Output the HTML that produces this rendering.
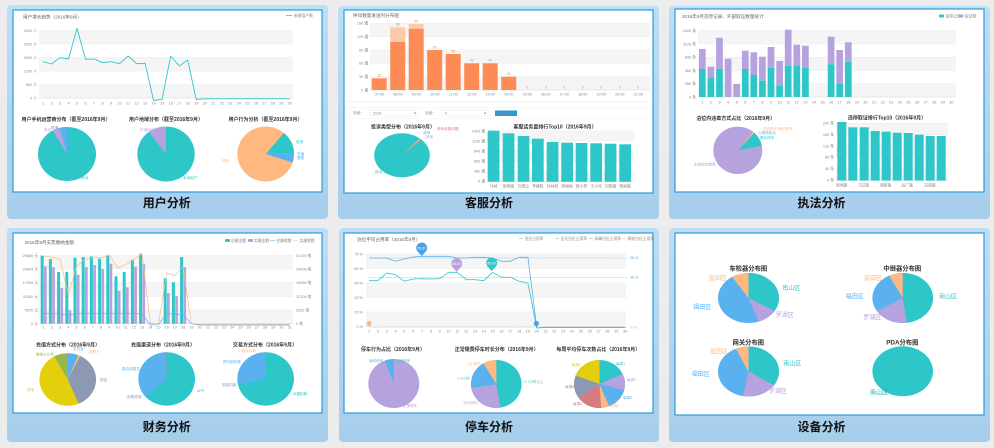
<!DOCTYPE html>
<html><head><meta charset="utf-8">
<style>
html,body{margin:0;padding:0;background:#ececec;width:994px;height:448px;overflow:hidden}
svg{display:block}
text{font-family:"Liberation Sans","Noto Sans CJK SC",sans-serif}
.ct{font-size:4.6px;fill:#666}
.ax{font-size:3.8px;fill:#888}
.pt{font-size:5px;font-weight:bold;fill:#333}
.pl{font-size:3.6px}
.big{font-size:12px;font-weight:bold;fill:#111;text-anchor:middle}
.dt{font-size:6px}
.dtt{font-size:6.3px;font-weight:bold;fill:#333;text-anchor:middle}
.e{text-anchor:end}
.m{text-anchor:middle}
</style></head><body>
<svg width="994" height="448" viewBox="0 0 994 448" xmlns="http://www.w3.org/2000/svg">
<defs>
<linearGradient id="pg" x1="0" y1="0" x2="0" y2="1">
<stop offset="0" stop-color="#bcdff6"/><stop offset="1" stop-color="#a6cdea"/>
</linearGradient>
</defs>

<!-- ============ PANEL 1 ============ -->
<rect x="7" y="5" width="321" height="214" rx="4" fill="url(#pg)"/>
<rect x="13" y="10" width="309" height="182" fill="#fff" stroke="#2e9cd8" stroke-width="1.2"/>
<text class="ct" x="23" y="18.5">用户增长趋势（2016年9月）</text>
<line x1="286" y1="15.5" x2="292" y2="15.5" stroke="#2ec7c9" stroke-width="0.8"/>
<text class="ax" x="294" y="17">新增用户数</text>
<g fill="#f5f5f5"><rect x="39" y="30.5" width="254" height="13.5"/><rect x="39" y="57.5" width="254" height="13.5"/><rect x="39" y="84.5" width="254" height="13.5"/></g>
<g stroke="#e6e6e6" stroke-width="0.4"><line x1="39" y1="30.5" x2="293" y2="30.5"/><line x1="39" y1="44" x2="293" y2="44"/><line x1="39" y1="57.5" x2="293" y2="57.5"/><line x1="39" y1="71" x2="293" y2="71"/><line x1="39" y1="84.5" x2="293" y2="84.5"/><line x1="39" y1="98" x2="293" y2="98" stroke="#ccc"/></g>
<g class="ax e"><text x="37" y="32">2400 人</text><text x="37" y="45.5">2000 人</text><text x="37" y="59">1600 人</text><text x="37" y="72.5">1200 人</text><text x="37" y="86">800 人</text><text x="37" y="99.5">0 人</text></g>
<text class="ax m" y="104.5"><tspan x="43">1</tspan><tspan x="51.5">2</tspan><tspan x="60">3</tspan><tspan x="68.5">4</tspan><tspan x="77">5</tspan><tspan x="85.6">6</tspan><tspan x="94.1">7</tspan><tspan x="102.6">8</tspan><tspan x="111.1">9</tspan><tspan x="119.6">10</tspan><tspan x="128.1">11</tspan><tspan x="136.6">12</tspan><tspan x="145.1">13</tspan><tspan x="153.6">14</tspan><tspan x="162.1">15</tspan><tspan x="170.7">16</tspan><tspan x="179.2">17</tspan><tspan x="187.7">18</tspan><tspan x="196.2">19</tspan><tspan x="204.7">20</tspan><tspan x="213.2">21</tspan><tspan x="221.7">22</tspan><tspan x="230.2">23</tspan><tspan x="238.7">24</tspan><tspan x="247.2">25</tspan><tspan x="255.8">26</tspan><tspan x="264.3">27</tspan><tspan x="272.8">28</tspan><tspan x="281.3">29</tspan><tspan x="289.8">30</tspan></text>
<polyline fill="none" stroke="#2ec7c9" stroke-width="0.9" stroke-linejoin="round" points="43,61.7 51.5,64 60,57.7 68.5,59 77,28.3 85.6,59.3 94.1,59 102.6,62.7 111.1,61.7 119.6,63.7 128.1,56 136.6,63.7 145.1,63.3 153.6,100.5 162.1,99.3 170.7,56 179.2,66 187.7,60 196.2,99.5 204.7,98.8 289.8,98.8"/>
<g class="pt m"><text x="66" y="121">用户手机运营商分布（截至2016年9月）</text><text x="166" y="121">用户地域分布（截至2016年9月）</text><text x="265.5" y="121">用户行为分析（截至2016年9月）</text></g>
<g transform="translate(67,154) scale(2.9,2.7)"><circle r="10" fill="#2ec7c9"/><circle r="5" fill="none" stroke="#b6a2de" stroke-width="10" stroke-dasharray="1.309 40" stroke-dashoffset="-28.80" transform="rotate(-90)"/><circle r="5" fill="none" stroke="#5ab1ef" stroke-width="10" stroke-dasharray="1.309 40" stroke-dashoffset="-30.11" transform="rotate(-90)"/></g>
<g transform="translate(166,154) scale(2.87,2.75)"><circle r="10" fill="#2ec7c9"/><circle r="5" fill="none" stroke="#b6a2de" stroke-width="10" stroke-dasharray="3.229 40" stroke-dashoffset="-28.19" transform="rotate(-90)"/></g>
<g transform="translate(265.7,154) scale(2.83,2.75)"><circle r="10" fill="#ffb980"/><circle r="5" fill="none" stroke="#2ec7c9" stroke-width="10" stroke-dasharray="4.189 40" stroke-dashoffset="-3.491" transform="rotate(-90)"/><circle r="5" fill="none" stroke="#5ab1ef" stroke-width="10" stroke-dasharray="1.745 40" stroke-dashoffset="-7.680" transform="rotate(-90)"/></g>
<g class="pl"><text x="44" y="131" fill="#b6a2de">电信</text><text x="51" y="129" fill="#5ab1ef">联通</text><text x="81" y="179" fill="#2ec7c9">移动</text><text x="140" y="131" fill="#b6a2de">外地用户</text><text x="183" y="179" fill="#2ec7c9">本地用户</text><text x="296" y="143" fill="#2ec7c9">查询</text><text x="297" y="155" fill="#5ab1ef">充值</text><text x="297" y="159" fill="#5ab1ef">缴费</text><text x="222" y="162" fill="#ffb980">停车</text></g>
<text class="big" x="166.7" y="207">用户分析</text>

<!-- ============ PANEL 2 ============ -->
<rect x="338" y="6" width="321" height="213" rx="4" fill="url(#pg)"/>
<rect x="344" y="10" width="309" height="183" fill="#fff" stroke="#2e9cd8" stroke-width="1.2"/>
<text class="ct" x="353" y="17">呼叫数量发送时分布图</text>
<g fill="#f5f5f5"><rect x="370" y="23.3" width="280" height="13.4"/><rect x="370" y="50" width="280" height="13.3"/><rect x="370" y="76.7" width="280" height="13.3"/></g>
<g stroke="#e6e6e6" stroke-width="0.4"><line x1="370" y1="23.3" x2="650" y2="23.3"/><line x1="370" y1="36.7" x2="650" y2="36.7"/><line x1="370" y1="50" x2="650" y2="50"/><line x1="370" y1="63.3" x2="650" y2="63.3"/><line x1="370" y1="76.7" x2="650" y2="76.7"/><line x1="370" y1="90" x2="650" y2="90" stroke="#ccc"/></g>
<g class="ax e"><text x="368" y="24.6">150 通</text><text x="368" y="38">120 通</text><text x="368" y="51.3">90 通</text><text x="368" y="64.6">60 通</text><text x="368" y="78">30 通</text><text x="368" y="91.3">0 通</text></g>
<g fill="#fc8b55"><rect x="371.7" y="78.3" width="15" height="11.7"/><rect x="390.2" y="41.7" width="15" height="48.3"/><rect x="408.7" y="28.7" width="15" height="61.3"/><rect x="427.2" y="50" width="15" height="40"/><rect x="445.7" y="54" width="15" height="36"/><rect x="464.2" y="63.3" width="15" height="26.7"/><rect x="482.7" y="63.3" width="15" height="26.7"/><rect x="501.2" y="76.7" width="15" height="13.3"/></g>
<g fill="#fcc9aa"><rect x="390.2" y="27.3" width="15" height="14.4"/><rect x="408.7" y="24" width="15" height="4.7"/></g>
<g class="pl m" fill="#fc8b55"><text x="379.2" y="76.5">18</text><text x="397.7" y="25.5">85</text><text x="416.2" y="22.3">99</text><text x="434.7" y="48.3">62</text><text x="453.2" y="52.3">56</text><text x="471.7" y="61.6">42</text><text x="490.2" y="61.6">42</text><text x="508.7" y="75">20</text><text x="527.2" y="88.5">0</text><text x="545.7" y="88.5">0</text><text x="564.2" y="88.5">0</text><text x="582.7" y="88.5">0</text><text x="601.2" y="88.5">0</text><text x="619.7" y="88.5">0</text><text x="638.2" y="88.5">0</text></g>
<text class="ax m" y="95.5"><tspan x="379.2">07:00</tspan><tspan x="397.7">08:00</tspan><tspan x="416.2">09:00</tspan><tspan x="434.7">10:00</tspan><tspan x="453.2">11:00</tspan><tspan x="471.7">12:00</tspan><tspan x="490.2">13:00</tspan><tspan x="508.7">14:00</tspan><tspan x="527.2">15:00</tspan><tspan x="545.7">16:00</tspan><tspan x="564.2">17:00</tspan><tspan x="582.7">18:00</tspan><tspan x="601.2">19:00</tspan><tspan x="619.7">20:00</tspan><tspan x="638.2">21:00</tspan></text>
<line x1="344" y1="101.7" x2="653" y2="101.7" stroke="#e8e8e8" stroke-width="0.5"/>
<rect x="346" y="107.3" width="305" height="11" fill="none" stroke="#eee" stroke-width="0.5"/>
<text class="ax" x="353" y="114.3" fill="#555">年份：</text>
<rect x="370" y="110" width="48" height="6" fill="#fff" stroke="#e3e3e3" stroke-width="0.4"/>
<text class="ax" x="373" y="114.3" fill="#555">2016</text><text class="ax" x="414" y="114.3" fill="#555">▾</text>
<text class="ax" x="425" y="114.3" fill="#555">月份：</text>
<rect x="442" y="110" width="46" height="6" fill="#fff" stroke="#e3e3e3" stroke-width="0.4"/>
<text class="ax" x="445" y="114.3" fill="#555">9</text><text class="ax" x="484" y="114.3" fill="#555">▾</text>
<rect x="495" y="110.5" width="22" height="5.5" fill="#2d9ad6"/>
<text class="ax m" x="506" y="114.6" fill="#fff">查 询</text>
<g class="pt m"><text x="403" y="128.5">投诉类型分布（2016年9月）</text><text x="555" y="128.5">客服话务量排行Top10（2016年9月）</text></g>
<g transform="translate(402,155.3) scale(2.78,2.2)"><circle r="10" fill="#2ec7c9"/><circle r="5" fill="none" stroke="#ffb980" stroke-width="10" stroke-dasharray="0.262 40" stroke-dashoffset="-3.491" transform="rotate(-90)"/><circle r="5" fill="none" stroke="#d87a80" stroke-width="10" stroke-dasharray="0.175 40" stroke-dashoffset="-3.753" transform="rotate(-90)"/></g>
<g class="pl"><text x="437" y="130" fill="#d87a80">停车收费问题</text><text x="423" y="134" fill="#5ab1ef">咨询</text><text x="426" y="138" fill="#b6a2de">其他</text><text x="375" y="173" fill="#2ec7c9">投诉</text></g>
<g fill="#f5f5f5"><rect x="487" y="131" width="147" height="10"/><rect x="487" y="151" width="147" height="10"/><rect x="487" y="171" width="147" height="10"/></g>
<g stroke="#e6e6e6" stroke-width="0.4"><line x1="487" y1="131" x2="634" y2="131"/><line x1="487" y1="141" x2="634" y2="141"/><line x1="487" y1="151" x2="634" y2="151"/><line x1="487" y1="161" x2="634" y2="161"/><line x1="487" y1="171" x2="634" y2="171"/><line x1="487" y1="181.7" x2="634" y2="181.7" stroke="#ccc"/></g>
<g class="ax e"><text x="485" y="132.3">1400 通</text><text x="485" y="142.3">1120 通</text><text x="485" y="152.3">840 通</text><text x="485" y="162.3">560 通</text><text x="485" y="172.3">280 通</text><text x="485" y="182.5">0 通</text></g>
<g fill="#2ec7c9"><rect x="487.7" y="130.7" width="11.7" height="51"/><rect x="502.7" y="133.3" width="11.7" height="48.4"/><rect x="517.7" y="136" width="11.7" height="45.7"/><rect x="532" y="138.7" width="11.7" height="43"/><rect x="546.7" y="142" width="11.7" height="39.7"/><rect x="561.3" y="142.7" width="11.7" height="39"/><rect x="575.7" y="143" width="11.7" height="38.7"/><rect x="590.3" y="143.3" width="11.7" height="38.4"/><rect x="604.7" y="143.7" width="11.7" height="38"/><rect x="619.3" y="144.3" width="11.7" height="37.4"/></g>
<text class="ax m" y="187.3"><tspan x="493.5">马林</tspan><tspan x="508.5">张晓梅</tspan><tspan x="523.5">刘翠云</tspan><tspan x="537.8">李建辉</tspan><tspan x="552.5">孙林双</tspan><tspan x="567.1">周丽梅</tspan><tspan x="581.5">郭小翠</tspan><tspan x="596.1">王小丹</tspan><tspan x="610.5">刘晓娟</tspan><tspan x="625.1">杨丽娟</tspan></text>
<text class="big" x="489" y="207">客服分析</text>

<!-- ============ PANEL 3 ============ -->
<rect x="669" y="6" width="321" height="213" rx="4" fill="url(#pg)"/>
<rect x="675" y="9" width="309" height="183" fill="#fff" stroke="#2e9cd8" stroke-width="1.2"/>
<text class="ct" x="682" y="18">2016年9月违停记录、外部取证数量统计</text>
<rect x="939" y="14.5" width="5" height="3" rx="0.8" fill="#2ec7c9"/><text class="ax" x="945.5" y="17.4">违停记录</text>
<rect x="958.5" y="14.5" width="5" height="3" rx="0.8" fill="#b6a2de"/><text class="ax" x="965" y="17.4">取证数</text>
<g fill="#f5f5f5"><rect x="698" y="30.7" width="258" height="13.3"/><rect x="698" y="57.3" width="258" height="13.2"/><rect x="698" y="83.8" width="258" height="13.2"/></g>
<g stroke="#e6e6e6" stroke-width="0.4"><line x1="698" y1="30.7" x2="956" y2="30.7"/><line x1="698" y1="44" x2="956" y2="44"/><line x1="698" y1="57.3" x2="956" y2="57.3"/><line x1="698" y1="70.5" x2="956" y2="70.5"/><line x1="698" y1="83.8" x2="956" y2="83.8"/><line x1="698" y1="97" x2="956" y2="97" stroke="#ccc"/></g>
<g class="ax e"><text x="696" y="32">1400 条</text><text x="696" y="45.3">1120 条</text><text x="696" y="58.6">840 条</text><text x="696" y="71.8">560 条</text><text x="696" y="85.1">280 条</text><text x="696" y="98.3">0 条</text></g>
<g fill="#b6a2de"><rect x="698.95" y="49" width="6.7" height="20"/><rect x="707.55" y="66.7" width="6.7" height="11.3"/><rect x="716.15" y="37.7" width="6.7" height="31.3"/><rect x="724.75" y="58.7" width="6.7" height="38.3"/><rect x="733.35" y="84" width="6.7" height="13"/><rect x="741.95" y="50.7" width="6.7" height="18.3"/><rect x="750.45" y="52.3" width="6.7" height="22.7"/><rect x="759.05" y="56.7" width="6.7" height="24"/><rect x="767.65" y="47" width="6.7" height="20.7"/><rect x="776.25" y="61" width="6.7" height="25"/><rect x="784.85" y="29.7" width="6.7" height="36"/><rect x="793.45" y="44.7" width="6.7" height="21.3"/><rect x="802.05" y="45.7" width="6.7" height="22"/><rect x="827.75" y="36.7" width="6.7" height="27.6"/><rect x="836.35" y="50" width="6.7" height="33.3"/><rect x="844.95" y="42.3" width="6.7" height="19.4"/></g>
<g fill="#2ec7c9"><rect x="698.95" y="69" width="6.7" height="28"/><rect x="707.55" y="78" width="6.7" height="19"/><rect x="716.15" y="69" width="6.7" height="28"/><rect x="741.95" y="69" width="6.7" height="28"/><rect x="750.45" y="75" width="6.7" height="22"/><rect x="759.05" y="80.7" width="6.7" height="16.3"/><rect x="767.65" y="67.7" width="6.7" height="29.3"/><rect x="776.25" y="86" width="6.7" height="11"/><rect x="784.85" y="65.7" width="6.7" height="31.3"/><rect x="793.45" y="66" width="6.7" height="31"/><rect x="802.05" y="67.7" width="6.7" height="29.3"/><rect x="827.75" y="64.3" width="6.7" height="32.7"/><rect x="836.35" y="83.3" width="6.7" height="13.7"/><rect x="844.95" y="61.7" width="6.7" height="35.3"/></g>
<text class="ax m" y="103.5"><tspan x="702.3">1</tspan><tspan x="710.9">2</tspan><tspan x="719.5">3</tspan><tspan x="728.1">4</tspan><tspan x="736.7">5</tspan><tspan x="745.3">6</tspan><tspan x="753.8">7</tspan><tspan x="762.4">8</tspan><tspan x="771">9</tspan><tspan x="779.6">10</tspan><tspan x="788.2">11</tspan><tspan x="796.8">12</tspan><tspan x="805.4">13</tspan><tspan x="814">14</tspan><tspan x="822.5">15</tspan><tspan x="831.1">16</tspan><tspan x="839.7">17</tspan><tspan x="848.3">18</tspan><tspan x="857">19</tspan><tspan x="865.5">20</tspan><tspan x="874.1">21</tspan><tspan x="882.7">22</tspan><tspan x="891.3">23</tspan><tspan x="899.9">24</tspan><tspan x="908.5">25</tspan><tspan x="917.1">26</tspan><tspan x="925.7">27</tspan><tspan x="934.2">28</tspan><tspan x="942.8">29</tspan><tspan x="951.4">30</tspan></text>
<g class="pt m"><text x="735.7" y="120">泊位内违章方式占比（2016年9月）</text><text x="887" y="119.5">违停取证排行Top10（2016年9月）</text></g>
<g transform="translate(737.8,150.3) scale(2.45,2.37)"><circle r="10" fill="#b6a2de"/><circle r="5" fill="none" stroke="#2ec7c9" stroke-width="10" stroke-dasharray="3.142 40" stroke-dashoffset="-3.665" transform="rotate(-90)"/><circle r="5" fill="none" stroke="#ffb980" stroke-width="10" stroke-dasharray="0.262 40" stroke-dashoffset="-3.403" transform="rotate(-90)"/></g>
<g class="pl"><text x="763" y="130" fill="#ffb980">逆向停车/跨位停车</text><text x="758" y="134" fill="#5ab1ef">占用残疾位</text><text x="760" y="139" fill="#2ec7c9">跨位停车</text><text x="694" y="165.5" fill="#b6a2de">未按规定缴费</text></g>
<g fill="#f5f5f5"><rect x="836" y="123.3" width="112" height="11.4"/><rect x="836" y="146" width="112" height="11.3"/><rect x="836" y="168.7" width="112" height="11.3"/></g>
<g stroke="#e6e6e6" stroke-width="0.4"><line x1="836" y1="123.3" x2="948" y2="123.3"/><line x1="836" y1="134.7" x2="948" y2="134.7"/><line x1="836" y1="146" x2="948" y2="146"/><line x1="836" y1="157.3" x2="948" y2="157.3"/><line x1="836" y1="168.7" x2="948" y2="168.7"/><line x1="836" y1="180.5" x2="948" y2="180.5" stroke="#ccc"/></g>
<g class="ax e"><text x="834" y="124.6">200 条</text><text x="834" y="136">160 条</text><text x="834" y="147.3">120 条</text><text x="834" y="158.6">80 条</text><text x="834" y="170">40 条</text><text x="834" y="181.5">0 条</text></g>
<g fill="#2ec7c9"><rect x="837.3" y="122" width="9" height="58.5"/><rect x="848.3" y="127.3" width="9" height="53.2"/><rect x="859.7" y="127.3" width="9" height="53.2"/><rect x="870.7" y="131" width="9" height="49.5"/><rect x="881.7" y="131.7" width="9" height="48.8"/><rect x="892.7" y="132.7" width="9" height="47.8"/><rect x="903.7" y="133" width="9" height="47.5"/><rect x="914.7" y="134.7" width="9" height="45.8"/><rect x="925.7" y="136" width="9" height="44.5"/><rect x="936.7" y="136" width="9" height="44.5"/></g>
<text class="ax m" y="186.5"><tspan x="841.8">新闻路</tspan><tspan x="863.8">万达街</tspan><tspan x="885.7">南新路</tspan><tspan x="907.3">后广路</tspan><tspan x="930">深南路</tspan></text>
<text class="big" x="821.5" y="207">执法分析</text>

<!-- ============ PANEL 4 ============ -->
<rect x="7" y="228" width="321" height="214" rx="4" fill="url(#pg)"/>
<rect x="13" y="233" width="309" height="180" fill="#fff" stroke="#2e9cd8" stroke-width="1.2"/>
<text class="ct" x="24.5" y="244">2016年9月支票缴纳金额</text>
<rect x="225" y="239" width="5" height="3" rx="0.8" fill="#2ec7c9"/><text class="ax" x="231" y="241.8">应缴金额</text>
<rect x="248" y="239" width="5" height="3" rx="0.8" fill="#b6a2de"/><text class="ax" x="254" y="241.8">实缴金额</text>
<line x1="270" y1="240.5" x2="275" y2="240.5" stroke="#5ab1ef" stroke-width="0.6"/><text class="ax" x="276.5" y="241.8">应缴笔数</text>
<line x1="293" y1="240.5" x2="298" y2="240.5" stroke="#ffb980" stroke-width="0.6"/><text class="ax" x="299.5" y="241.8">实缴笔数</text>
<g fill="#f5f5f5"><rect x="40" y="255.5" width="253" height="13.5"/><rect x="40" y="282.5" width="253" height="14"/><rect x="40" y="310" width="253" height="13.7"/></g>
<g stroke="#e6e6e6" stroke-width="0.4"><line x1="40" y1="255.5" x2="293" y2="255.5"/><line x1="40" y1="269" x2="293" y2="269"/><line x1="40" y1="282.5" x2="293" y2="282.5"/><line x1="40" y1="296.5" x2="293" y2="296.5"/><line x1="40" y1="310" x2="293" y2="310"/><line x1="40" y1="323.7" x2="293" y2="323.7" stroke="#ccc"/></g>
<g class="ax e"><text x="38" y="256.8">29880 元</text><text x="38" y="270.3">23904 元</text><text x="38" y="283.8">17928 元</text><text x="38" y="297.8">11952 元</text><text x="38" y="311.3">5976 元</text><text x="38" y="325">0 元</text></g>
<g class="ax"><text x="296" y="256.8">31760 笔</text><text x="296" y="270.3">25408 笔</text><text x="296" y="283.8">19056 笔</text><text x="296" y="297.8">12704 笔</text><text x="296" y="311.3">6352 笔</text><text x="296" y="325">0 笔</text></g>
<g fill="#2ec7c9"><rect x="40.7" y="255.7" width="3" height="68"/><rect x="48.9" y="259" width="3" height="64.7"/><rect x="57.1" y="272" width="3" height="51.7"/><rect x="65.3" y="272" width="3" height="51.7"/><rect x="73.5" y="257.7" width="3" height="66"/><rect x="81.7" y="257" width="3" height="66.7"/><rect x="89.9" y="256.3" width="3" height="67.4"/><rect x="98.1" y="258.7" width="3" height="65"/><rect x="106.3" y="255.7" width="3" height="68"/><rect x="114.5" y="276.3" width="3" height="47.4"/><rect x="122.7" y="272" width="3" height="51.7"/><rect x="130.9" y="259.7" width="3" height="64"/><rect x="139.1" y="253.7" width="3" height="70"/><rect x="163.7" y="278.3" width="3" height="45.4"/><rect x="171.9" y="282.3" width="3" height="41.4"/><rect x="180.1" y="257" width="3" height="66.7"/></g>
<g fill="#b6a2de"><rect x="44" y="266.3" width="2.7" height="57.4"/><rect x="52.2" y="267.3" width="2.7" height="56.4"/><rect x="60.4" y="288" width="2.7" height="35.7"/><rect x="68.6" y="310.3" width="2.7" height="13.4"/><rect x="76.8" y="274.7" width="2.7" height="49"/><rect x="85" y="267" width="2.7" height="56.7"/><rect x="93.2" y="265" width="2.7" height="58.7"/><rect x="101.4" y="269" width="2.7" height="54.7"/><rect x="109.6" y="263.7" width="2.7" height="60"/><rect x="117.8" y="290.7" width="2.7" height="33"/><rect x="126" y="287.3" width="2.7" height="36.4"/><rect x="134.2" y="266.7" width="2.7" height="57"/><rect x="142.4" y="263.7" width="2.7" height="60"/><rect x="167" y="293" width="2.7" height="30.7"/><rect x="175.2" y="296.3" width="2.7" height="27.4"/><rect x="183.4" y="267.3" width="2.7" height="56.4"/></g>
<polyline fill="none" stroke="#ffb980" stroke-width="0.7" stroke-linejoin="round" points="43.7,256.3 51.9,257 60.1,259.7 68.3,294.7 76.5,266.3 84.7,259.7 92.9,257 101.1,258 109.3,254.7 117.5,268 125.7,264.7 133.9,259.7 142.1,253.7 150.3,323 158.5,323.7 166.7,273 174.9,275.7 183.1,266.3 191.3,323.7 199.5,324.3 289.7,324.3"/>
<polyline fill="none" stroke="#5ab1ef" stroke-width="0.7" stroke-linejoin="round" points="43.7,313 51.9,313.7 60.1,314 68.3,314.7 76.5,313.7 142.1,313.7 150.3,325 158.5,324.7 166.7,313.7 174.9,314 183.1,314.7 191.3,323.7 199.5,325 289.7,325"/>
<text class="ax m" y="328.3"><tspan x="43.7">1</tspan><tspan x="51.9">2</tspan><tspan x="60.1">3</tspan><tspan x="68.3">4</tspan><tspan x="76.5">5</tspan><tspan x="84.7">6</tspan><tspan x="92.9">7</tspan><tspan x="101.1">8</tspan><tspan x="109.3">9</tspan><tspan x="117.5">10</tspan><tspan x="125.7">11</tspan><tspan x="133.9">12</tspan><tspan x="142.1">13</tspan><tspan x="150.3">14</tspan><tspan x="158.5">15</tspan><tspan x="166.7">16</tspan><tspan x="174.9">17</tspan><tspan x="183.1">18</tspan><tspan x="191.3">19</tspan><tspan x="199.5">20</tspan><tspan x="207.7">21</tspan><tspan x="215.9">22</tspan><tspan x="224.1">23</tspan><tspan x="232.3">24</tspan><tspan x="240.5">25</tspan><tspan x="248.7">26</tspan><tspan x="256.9">27</tspan><tspan x="265.1">28</tspan><tspan x="273.3">29</tspan><tspan x="281.5">30</tspan><tspan x="289.7">31</tspan></text>
<g class="pt m"><text x="68" y="346.5">充值方式分布（2016年9月）</text><text x="163" y="346.5">充值渠道分布（2016年9月）</text><text x="265" y="346.5">交易方式分布（2016年9月）</text></g>
<g transform="translate(67.7,379.5) scale(2.83,2.62)"><circle r="10" fill="#e5cf0d"/><circle r="5" fill="none" stroke="#5ab1ef" stroke-width="10" stroke-dasharray="1.920 40" stroke-dashoffset="0" transform="rotate(-90)"/><circle r="5" fill="none" stroke="#ffb980" stroke-width="10" stroke-dasharray="0.349 40" stroke-dashoffset="-1.920" transform="rotate(-90)"/><circle r="5" fill="none" stroke="#8d98b3" stroke-width="10" stroke-dasharray="11.432 40" stroke-dashoffset="-2.269" transform="rotate(-90)"/><circle r="5" fill="none" stroke="#97b552" stroke-width="10" stroke-dasharray="2.531 40" stroke-dashoffset="-28.886" transform="rotate(-90)"/></g>
<g transform="translate(166.7,379) scale(2.83,2.67)"><circle r="10" fill="#2ec7c9"/><circle r="5" fill="none" stroke="#5ab1ef" stroke-width="10" stroke-dasharray="11.258 40" stroke-dashoffset="-19.898" transform="rotate(-90)"/><circle r="5" fill="none" stroke="#8d98b3" stroke-width="10" stroke-dasharray="0.262 40" stroke-dashoffset="-31.155" transform="rotate(-90)"/></g>
<g transform="translate(265.7,379) scale(2.83,2.67)"><circle r="10" fill="#2ec7c9"/><circle r="5" fill="none" stroke="#5ab1ef" stroke-width="10" stroke-dasharray="8.727 40" stroke-dashoffset="-22.516" transform="rotate(-90)"/><circle r="5" fill="none" stroke="#8d98b3" stroke-width="10" stroke-dasharray="0.175 40" stroke-dashoffset="-31.243" transform="rotate(-90)"/></g>
<g class="pl"><text x="36" y="355.5" fill="#97b552">微信公众号</text><text x="73" y="350" fill="#5ab1ef">支付宝</text><text x="89" y="353" fill="#ffb980">银联卡</text><text x="100" y="381" fill="#8d98b3">现金</text><text x="27" y="391" fill="#e5cf0d">其他</text><text x="122" y="370" fill="#5ab1ef">路边收费员</text><text x="127" y="398" fill="#8d98b3">自助终端</text><text x="197" y="392" fill="#2ec7c9">APP</text><text x="238" y="352" fill="#ffb980">小程序扣款</text><text x="223" y="363" fill="#5ab1ef">预付款扣款</text><text x="222" y="386" fill="#8d98b3">现金扣款</text><text x="293" y="395" fill="#2ec7c9">余额扣款</text></g>
<text class="big" x="166.7" y="431">财务分析</text>

<!-- ============ PANEL 5 ============ -->
<rect x="339" y="228" width="320" height="214" rx="4" fill="url(#pg)"/>
<rect x="344" y="233" width="309" height="180" fill="#fff" stroke="#2e9cd8" stroke-width="1.2"/>
<text class="ct" x="357" y="241">泊位平均占用率（2016年9月）</text>
<g class="ax"><line x1="519" y1="238.5" x2="523" y2="238.5" stroke="#2ec7c9" stroke-width="0.5"/><text x="524.5" y="240">泊位占用率</text><line x1="555" y1="238.5" x2="559" y2="238.5" stroke="#5ab1ef" stroke-width="0.5"/><text x="560.5" y="240">全天泊位占用率</text><line x1="589" y1="238.5" x2="593" y2="238.5" stroke="#5ab1ef" stroke-width="0.5"/><text x="594.5" y="240">高峰泊位占用率</text><line x1="622" y1="238.5" x2="626" y2="238.5" stroke="#ffb980" stroke-width="0.5"/><text x="627.5" y="240">周转泊位占用率</text></g>
<g fill="#f5f5f5"><rect x="366" y="254" width="260" height="14.5"/><rect x="366" y="283" width="260" height="14.5"/><rect x="366" y="312" width="260" height="14.5"/></g>
<g stroke="#e6e6e6" stroke-width="0.4"><line x1="366" y1="254" x2="626" y2="254"/><line x1="366" y1="268.5" x2="626" y2="268.5"/><line x1="366" y1="283" x2="626" y2="283"/><line x1="366" y1="297.5" x2="626" y2="297.5"/><line x1="366" y1="312" x2="626" y2="312"/><line x1="366" y1="326.5" x2="626" y2="326.5" stroke="#ccc"/></g>
<g class="ax e"><text x="363" y="255.3">75 %</text><text x="363" y="269.8">60 %</text><text x="363" y="284.3">45 %</text><text x="363" y="298.8">30 %</text><text x="363" y="313.3">15 %</text><text x="363" y="327.8">0 %</text></g>
<g stroke="#5ab1ef" stroke-width="0.5" stroke-dasharray="1.5 1.2"><line x1="369" y1="258" x2="628" y2="258"/><line x1="369" y1="277.3" x2="628" y2="277.3"/></g>
<line x1="369" y1="327.3" x2="628" y2="327.3" stroke="#ffb980" stroke-width="0.5" stroke-dasharray="1.5 1.2"/>
<g class="pl"><text x="630" y="259.2" fill="#5ab1ef">68.11</text><text x="630" y="278.5" fill="#5ab1ef">46.11</text><text x="630" y="328.5" fill="#ffb980">0.00</text></g>
<polyline fill="none" stroke="#5ab1ef" stroke-width="0.8" stroke-linejoin="round" points="369,258 377.8,258 386.7,258 395.5,261.3 404.3,259 413.2,257 422,256.3 430.8,256.3 439.6,256.3 448.5,256.3 457.3,258 466.1,258 475,257.3 483.8,257.3 492.6,258 501.5,261.3 510.3,261.3 519.1,257.3 527.9,257.3 536.8,328 545.6,327.3 625.1,327.3"/>
<polyline fill="none" stroke="#2ec7c9" stroke-width="0.8" stroke-linejoin="round" points="369,280.7 377.8,280.7 386.7,273 395.5,274.7 404.3,281.3 413.2,279 422,278.7 430.8,279 439.6,278.7 448.5,272.3 457.3,272.3 466.1,279.7 475,279.7 483.8,280.7 492.6,272.3 501.5,277.3 510.3,277.3 519.1,281.3 527.9,283 536.8,328 545.6,327.5 625.1,327.5"/>
<path d="M417.1,251 A5.5,5.5 0 1 1 426.3,251 L421.7,256 Z" fill="#4aa3e8"/>
<path d="M452.1,266.7 A5.5,5.5 0 1 1 461.3,266.7 L456.7,271.7 Z" fill="#b6a2de"/>
<path d="M487.1,266 A5.5,5.5 0 1 1 496.3,266 L491.7,271 Z" fill="#2ec7c9"/>
<g class="pl m" fill="#fff"><text x="421.7" y="249.3">76.67</text><text x="456.7" y="265">54.67</text><text x="491.7" y="264.3">55.67</text></g>
<circle cx="369" cy="323.5" r="2.6" fill="#ffb980"/>
<circle cx="536.3" cy="323.5" r="2.6" fill="#4aa3e8"/>
<text class="ax m" y="332.5"><tspan x="369">1</tspan><tspan x="377.8">2</tspan><tspan x="386.7">3</tspan><tspan x="395.5">4</tspan><tspan x="404.3">5</tspan><tspan x="413.2">6</tspan><tspan x="422">7</tspan><tspan x="430.8">8</tspan><tspan x="439.6">9</tspan><tspan x="448.5">10</tspan><tspan x="457.3">11</tspan><tspan x="466.1">12</tspan><tspan x="475">13</tspan><tspan x="483.8">14</tspan><tspan x="492.6">15</tspan><tspan x="501.5">16</tspan><tspan x="510.3">17</tspan><tspan x="519.1">18</tspan><tspan x="527.9">19</tspan><tspan x="536.8">20</tspan><tspan x="545.6">21</tspan><tspan x="554.4">22</tspan><tspan x="563.3">23</tspan><tspan x="572.1">24</tspan><tspan x="580.9">25</tspan><tspan x="589.8">26</tspan><tspan x="598.6">27</tspan><tspan x="607.4">28</tspan><tspan x="616.2">29</tspan><tspan x="625.1">30</tspan></text>
<g class="pt m"><text x="393" y="350.8">停车行为占比（2016年9月）</text><text x="496.7" y="350.8">正常缴费停车时长分布（2016年9月）</text><text x="598.3" y="350.8">每周平均停车次数占比（2016年9月）</text></g>
<g transform="translate(393.8,383.5) scale(2.55,2.45)"><circle r="10" fill="#b6a2de"/><circle r="5" fill="none" stroke="#5ab1ef" stroke-width="10" stroke-dasharray="2.007 40" stroke-dashoffset="-29.41" transform="rotate(-90)"/></g>
<g transform="translate(496.3,384) scale(2.53,2.4)"><circle r="10" fill="#2ec7c9"/><circle r="5" fill="none" stroke="#b6a2de" stroke-width="10" stroke-dasharray="7.767 40" stroke-dashoffset="-14.749" transform="rotate(-90)"/><circle r="5" fill="none" stroke="#5ab1ef" stroke-width="10" stroke-dasharray="6.022 40" stroke-dashoffset="-22.516" transform="rotate(-90)"/><circle r="5" fill="none" stroke="#ffb980" stroke-width="10" stroke-dasharray="2.880 40" stroke-dashoffset="-28.537" transform="rotate(-90)"/></g>
<g transform="translate(599.5,384) scale(2.55,2.4)"><circle r="10" fill="#2ec7c9"/><circle r="5" fill="none" stroke="#b6a2de" stroke-width="10" stroke-dasharray="3.491 40" stroke-dashoffset="-5.673" transform="rotate(-90)"/><circle r="5" fill="none" stroke="#5ab1ef" stroke-width="10" stroke-dasharray="4.538 40" stroke-dashoffset="-9.163" transform="rotate(-90)"/><circle r="5" fill="none" stroke="#ffb980" stroke-width="10" stroke-dasharray="1.571 40" stroke-dashoffset="-13.701" transform="rotate(-90)"/><circle r="5" fill="none" stroke="#d87a80" stroke-width="10" stroke-dasharray="5.062 40" stroke-dashoffset="-15.272" transform="rotate(-90)"/><circle r="5" fill="none" stroke="#8d98b3" stroke-width="10" stroke-dasharray="4.887 40" stroke-dashoffset="-20.334" transform="rotate(-90)"/><circle r="5" fill="none" stroke="#e5cf0d" stroke-width="10" stroke-dasharray="6.196 40" stroke-dashoffset="-25.221" transform="rotate(-90)"/></g>
<g class="pl"><text x="369" y="362" fill="#5ab1ef">临时停车</text><text x="396" y="362" fill="#2ec7c9">包月停车</text><text x="403" y="407" fill="#b6a2de">正常停车</text><text x="468" y="365" fill="#ffb980">2小时内</text><text x="457" y="379.5" fill="#5ab1ef">1-2小时</text><text x="463" y="404" fill="#b6a2de">30分钟内</text><text x="524" y="383" fill="#2ec7c9">4-7小时以上</text><text x="572" y="366" fill="#e5cf0d">每周7</text><text x="616" y="365" fill="#2ec7c9">每周1</text><text x="627" y="381" fill="#b6a2de">每周2</text><text x="623" y="399" fill="#5ab1ef">每周3</text><text x="610" y="407" fill="#ffb980">每周4</text><text x="573" y="405" fill="#d87a80">每周5</text><text x="565" y="388" fill="#8d98b3">每周6</text></g>
<text class="big" x="489" y="431">停车分析</text>

<!-- ============ PANEL 6 ============ -->
<rect x="669" y="228" width="321" height="214" rx="4" fill="url(#pg)"/>
<rect x="675" y="233" width="309" height="182" fill="#fff" stroke="#2e9cd8" stroke-width="1.2"/>
<text class="dt" x="709" y="280.2" fill="#ffb980">盐田区</text>
<text class="dt" x="864" y="280.2" fill="#ffb980">盐田区</text>
<text class="dt" x="710" y="353.5" fill="#ffb980">盐田区</text>
<text class="dtt" x="748.3" y="270.5">车检器分布图</text>
<text class="dtt" x="902.3" y="270.5">中继器分布图</text>
<text class="dtt" x="748.3" y="344.6">网关分布图</text>
<text class="dtt" x="902.3" y="344.6">PDA分布图</text>
<g transform="translate(748.5,298) scale(3.05,2.5)"><circle r="10" fill="#5ab1ef"/><circle r="5" fill="none" stroke="#2ec7c9" stroke-width="10" stroke-dasharray="10.560 40" stroke-dashoffset="0" transform="rotate(-90)"/><circle r="5" fill="none" stroke="#b6a2de" stroke-width="10" stroke-dasharray="3.404 40" stroke-dashoffset="-10.560" transform="rotate(-90)"/><circle r="5" fill="none" stroke="#ffb980" stroke-width="10" stroke-dasharray="2.880 40" stroke-dashoffset="-28.537" transform="rotate(-90)"/></g>
<g transform="translate(902.7,298) scale(3.03,2.5)"><circle r="10" fill="#5ab1ef"/><circle r="5" fill="none" stroke="#2ec7c9" stroke-width="10" stroke-dasharray="15.010 40" stroke-dashoffset="0" transform="rotate(-90)"/><circle r="5" fill="none" stroke="#b6a2de" stroke-width="10" stroke-dasharray="5.760 40" stroke-dashoffset="-15.010" transform="rotate(-90)"/><circle r="5" fill="none" stroke="#ffb980" stroke-width="10" stroke-dasharray="2.356 40" stroke-dashoffset="-29.061" transform="rotate(-90)"/></g>
<g transform="translate(748.5,371.5) scale(3.05,2.5)"><circle r="10" fill="#5ab1ef"/><circle r="5" fill="none" stroke="#2ec7c9" stroke-width="10" stroke-dasharray="10.734 40" stroke-dashoffset="0" transform="rotate(-90)"/><circle r="5" fill="none" stroke="#b6a2de" stroke-width="10" stroke-dasharray="5.847 40" stroke-dashoffset="-10.734" transform="rotate(-90)"/><circle r="5" fill="none" stroke="#ffb980" stroke-width="10" stroke-dasharray="2.182 40" stroke-dashoffset="-29.235" transform="rotate(-90)"/></g>
<ellipse cx="902.7" cy="371.3" rx="30.3" ry="25" fill="#2ec7c9"/>
<g class="dt"><text x="782.3" y="290.2" fill="#2ec7c9">南山区</text><text x="775.7" y="316.9" fill="#b6a2de">罗湖区</text><text x="693.3" y="308.9" fill="#5ab1ef">福田区</text>
<text x="939" y="298.5" fill="#2ec7c9">南山区</text><text x="863.3" y="319.5" fill="#b6a2de">罗湖区</text><text x="845.7" y="298.5" fill="#5ab1ef">福田区</text>
<text x="783.3" y="365.5" fill="#2ec7c9">南山区</text><text x="769" y="392.9" fill="#b6a2de">罗湖区</text><text x="691.7" y="376.2" fill="#5ab1ef">福田区</text>
<text x="870" y="394.5" fill="#1fa9ab">南山区</text></g>
<text class="big" x="821.5" y="431">设备分析</text>
</svg>
</body></html>
